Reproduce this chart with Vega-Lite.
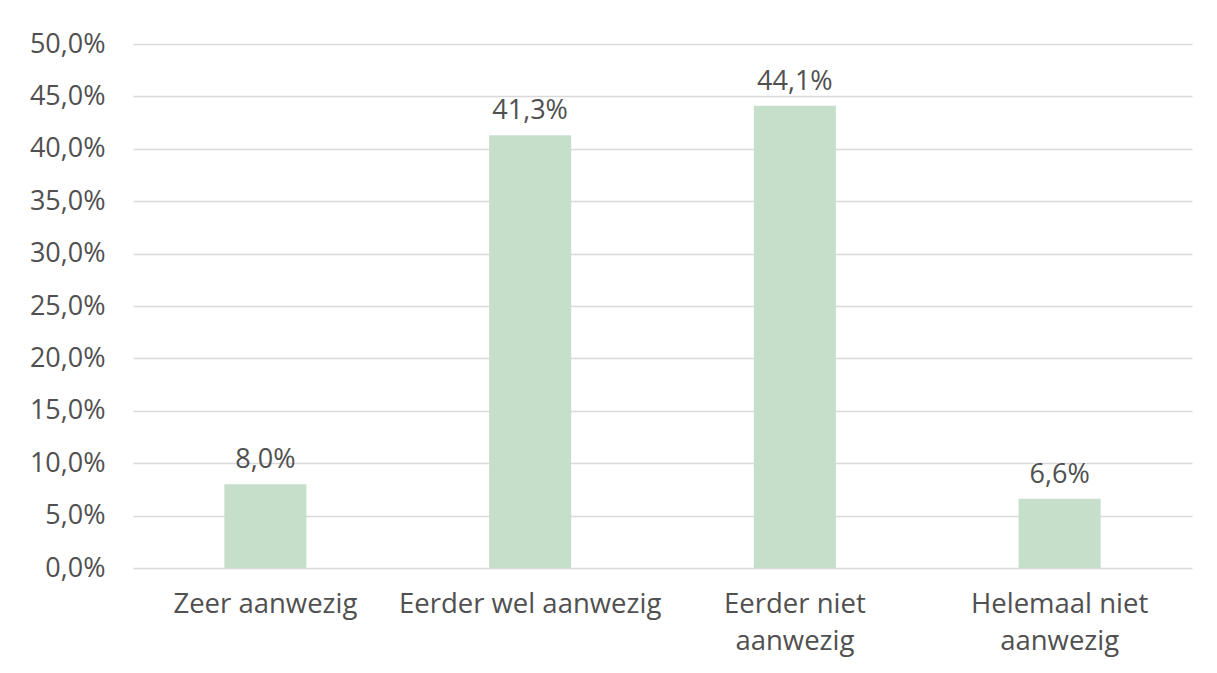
{
  "$schema": "https://vega.github.io/schema/vega-lite/v6.json",
  "width": 1059,
  "height": 524,
  "autosize": {"type": "none"},
  "padding": {"left": 133, "top": 44, "right": 25, "bottom": 105},
  "background": "white",
  "config": {
    "locale": {"number": {"decimal": ",", "thousands": ".", "grouping": [3], "currency": ["€", ""]}},
    "view": {"stroke": null},
    "font": "Open Sans"
  },
  "data": {
    "values": [
      {"categorie": "Zeer aanwezig", "aandeel": 0.080},
      {"categorie": "Eerder wel aanwezig", "aandeel": 0.413},
      {"categorie": "Eerder niet aanwezig", "aandeel": 0.441},
      {"categorie": "Helemaal niet aanwezig", "aandeel": 0.066}
    ]
  },
  "encoding": {
    "x": {
      "field": "categorie",
      "type": "nominal",
      "sort": null,
      "scale": {"paddingInner": 0.69, "paddingOuter": 0.345},
      "axis": {
        "title": null,
        "labelAngle": 0,
        "labelFont": "Open Sans",
        "labelFontSize": 27.5,
        "labelColor": "#505050",
        "labelPadding": 22,
        "labelLineHeight": 37,
        "labelBaseline": "top",
        "labelLimit": 0,
        "ticks": false,
        "domain": false,
        "labelExpr": "datum.value == 'Eerder niet aanwezig' ? ['Eerder niet', 'aanwezig'] : datum.value == 'Helemaal niet aanwezig' ? ['Helemaal niet', 'aanwezig'] : datum.value"
      }
    },
    "y": {
      "field": "aandeel",
      "type": "quantitative",
      "scale": {"domain": [0, 0.5]},
      "axis": {
        "title": null,
        "format": ".1%",
        "values": [0, 0.05, 0.1, 0.15, 0.2, 0.25, 0.3, 0.35, 0.4, 0.45, 0.5],
        "labelFont": "Open Sans",
        "labelFontSize": 27,
        "labelColor": "#505050",
        "labelPadding": 28,
        "ticks": false,
        "domain": false,
        "gridColor": "#d9d9d9",
        "gridWidth": 1.3
      }
    }
  },
  "layer": [
    {"mark": {"type": "bar", "color": "#c6dfcb"}},
    {
      "mark": {"type": "text", "baseline": "bottom", "dy": -10, "fontSize": 27, "font": "Open Sans", "color": "#505050"},
      "encoding": {"text": {"field": "aandeel", "type": "quantitative", "format": ".1%"}}
    }
  ]
}
